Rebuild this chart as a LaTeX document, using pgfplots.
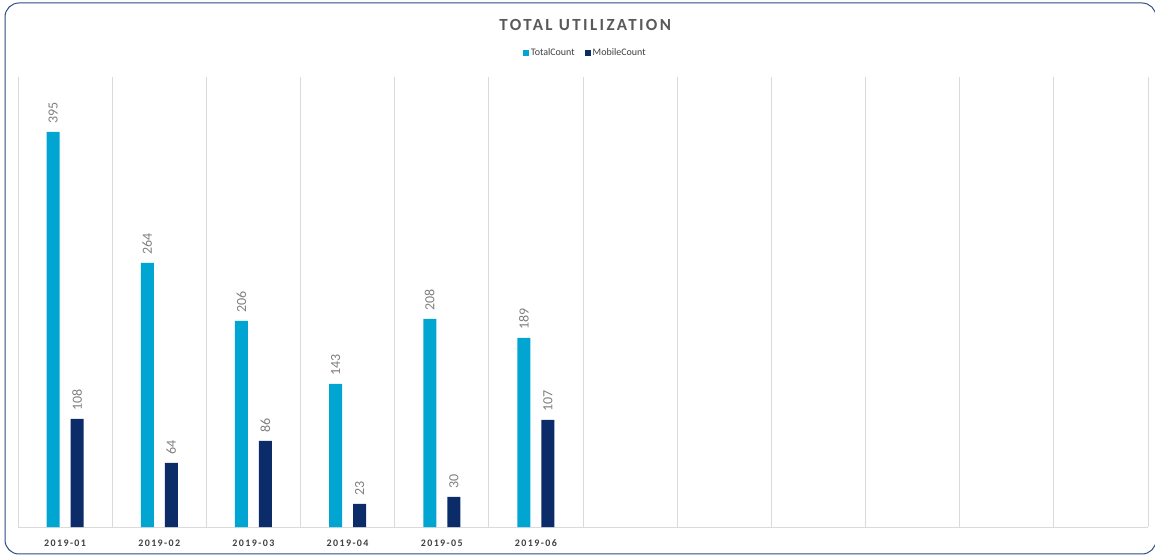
\documentclass[border=0pt]{standalone}
\usepackage{pgfplots}
\pgfplotsset{compat=1.18}
\usepackage{fontspec}
\setmainfont{Carlito}
\definecolor{totalc}{HTML}{00A6D1}
\definecolor{mobilec}{HTML}{0B2B69}
\definecolor{framec}{HTML}{2E4A86}
\definecolor{gridc}{HTML}{DADADA}
\definecolor{titlec}{HTML}{595959}
\definecolor{labelc}{HTML}{808080}
\definecolor{tickc}{HTML}{404040}

\begin{document}
\begin{tikzpicture}[x=1pt,y=1pt]
\path[use as bounding box] (0,0) rectangle (1155,556);
\draw[framec, line width=1pt, rounded corners=14pt] (5,2) rectangle (1156,553);
\begin{axis}[
  at={(18pt,29pt)}, anchor=south west,
  scale only axis, width=1130pt, height=450pt,
  xmin=0, xmax=12, ymin=0, ymax=450,
  ybar, bar width=13pt,
  axis y line=none,
  axis x line*=bottom,
  x axis line style={-, draw=gridc, line width=1pt},
  xtick={0.5,1.5,2.5,3.5,4.5,5.5},
  xticklabels={2019-01,2019-02,2019-03,2019-04,2019-05,2019-06},
  major tick length=0pt,
  minor xtick={0,1,...,12},
  minor tick length=0pt,
  xminorgrids,
  minor grid style={draw=gridc, line width=1pt},
  x tick label style={font=\fontsize{10}{12}\selectfont\bfseries\addfontfeatures{LetterSpace=14}, text=tickc, yshift=-9pt},
  nodes near coords={\pgfmathprintnumber[assume math mode=true]{\pgfplotspointmeta}},
  every node near coord/.append style={rotate=90, anchor=west, text=labelc, font=\fontsize{14}{16}\selectfont, xshift=5pt},
  title={TOTAL UTILIZATION},
  title style={at={(0.502,1.103)}, anchor=center, text=titlec, font=\fontsize{17}{19}\selectfont\bfseries\addfontfeatures{LetterSpace=14}},
  legend style={at={(0.502,1.053)}, anchor=center, draw=none, font=\fontsize{10}{12}\selectfont, text=tickc, legend columns=2, /tikz/every even column/.append style={column sep=8pt}},
  legend image code/.code={\fill[#1] (0pt,-3pt) rectangle (6pt,3pt);},
]
\addplot[fill=totalc, draw=none, bar shift=-12pt] coordinates {
  (0.5,395) (1.5,264) (2.5,206) (3.5,143) (4.5,208) (5.5,189)};
\addplot[fill=mobilec, draw=none, bar shift=12pt] coordinates {
  (0.5,108) (1.5,64) (2.5,86) (3.5,23) (4.5,30) (5.5,107)};
\legend{TotalCount, MobileCount}
\end{axis}
\end{tikzpicture}
\end{document}
